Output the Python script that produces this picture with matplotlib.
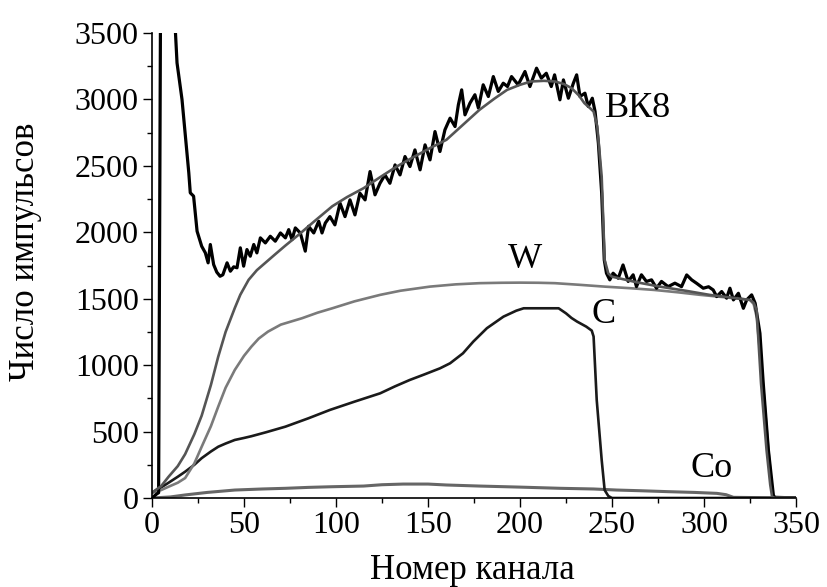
import matplotlib
matplotlib.use("Agg")
import matplotlib.pyplot as plt
from matplotlib.ticker import MultipleLocator

plt.rcParams['font.family'] = ['Liberation Serif', 'DejaVu Serif']
plt.rcParams['mathtext.fontset'] = 'stix'

# Measured RBS spectrum of the ВК8 alloy (channel, counts)
exp_ch = [0, 2.5, 3.6, 4.6, 5.5, 8, 11, 12.2, 13.6, 16.3, 18, 20, 20.8, 22.6, 23.5, 24.5,
          27, 29, 30.5, 31.7, 33.5, 35.2, 37, 38.5, 40.8, 42.6, 44.4, 46.2, 48, 49.8, 51.6,
          53.4, 55.3, 57, 58.9, 61.6, 64.3, 67, 69.8, 72.5, 74.3, 76.1, 77.9, 80.6, 83.3,
          85.1, 87.9, 90.6, 92.4, 94.2, 96.7, 99.4, 102.2, 104.9, 107.6, 110.3, 113, 115.8,
          118.5, 121.2, 123.9, 126.6, 129.3, 132.1, 134.8, 137.5, 140.2, 142.9, 145.7, 148.4,
          151.1, 153.8, 156.5, 159.2, 162, 164.7, 166.5, 168.3, 170.1, 172.8, 175.5, 177.4,
          180, 182.8, 185.5, 188.2, 190.9, 193.2, 195.4, 199, 202.7, 205.4, 209, 211.6, 214.3,
          217, 218.8, 221.7, 223.6, 226.3, 229, 230.8, 232.6, 235.3, 237.1, 239.3, 240.8,
          242.6, 244.4, 245.8, 247, 248.8, 250.6, 253.4, 256, 258.8, 261.5, 263.3, 266, 268.7,
          271.5, 274.2, 276.9, 280.5, 284.2, 287.8, 290.6, 293.3, 296, 299.6, 302.5, 305,
          306.9, 309.6, 312.3, 314.1, 316, 318.7, 321.4, 323.2, 325.9, 327.8, 330.4, 332.2,
          335, 337.7, 338.5, 350]
exp_counts = [0, 30, 40, 3700, 5000, 6000, 4500, 3650, 3275, 3000, 2748, 2447, 2297, 2272,
              2146, 2008, 1895, 1845, 1770, 1908, 1757, 1700, 1669, 1680, 1770, 1707, 1740,
              1733, 1883, 1745, 1870, 1820, 1908, 1845, 1958, 1920, 1970, 1933, 1995, 1958,
              2020, 1945, 2033, 1995, 1858, 2045, 1995, 2083, 1995, 2070, 2118, 2056, 2219,
              2118, 2244, 2131, 2294, 2244, 2457, 2282, 2369, 2432, 2369, 2507, 2432, 2570,
              2495, 2620, 2470, 2658, 2545, 2758, 2608, 2771, 2859, 2796, 2959, 3072, 2884,
              2972, 3035, 2935, 3110, 3022, 3172, 3060, 3122, 3097, 3172, 3110, 3210, 3097,
              3235, 3160, 3197, 3097, 3185, 2997, 3147, 3009, 3122, 3185, 3022, 3047, 2947,
              3009, 2909, 2671, 2294, 1792, 1692, 1642, 1692, 1654, 1754, 1630, 1680, 1591,
              1680, 1630, 1642, 1579, 1630, 1591, 1617, 1591, 1679, 1642, 1616, 1579, 1590,
              1566, 1516, 1554, 1504, 1579, 1491, 1541, 1428, 1491, 1529, 1466, 1240, 864,
              361, 22, 0, 0]

# Simulated total spectrum
fit_ch = [0, 5, 9, 14, 18, 23, 27, 32, 36, 40, 45, 48, 52.5, 57, 62, 67, 72.5, 80, 88, 98,
          106, 115, 124, 133, 142, 151, 160, 169, 178, 186, 193, 200, 206, 213, 219, 224,
          228, 232, 235, 238, 240, 242, 244.4, 246, 248, 250, 263, 276, 290, 303, 314, 325,
          327, 328.6, 331, 334, 336, 337, 338.5, 350]
fit_counts = [40, 90, 160, 240, 330, 480, 620, 850, 1064, 1250, 1430, 1530, 1642, 1715,
              1775, 1835, 1900, 1985, 2080, 2196, 2265, 2332, 2415, 2495, 2565, 2633, 2696,
              2809, 2922, 3005, 3072, 3110, 3135, 3140, 3135, 3115, 3085, 3030, 2972, 2935,
              2909, 2796, 2419, 1792, 1690, 1666, 1625, 1591, 1560, 1529, 1510, 1491, 1470,
              1415, 864, 361, 100, 10, 0, 0]

# Partial contributions of the elements
w_ch = [0, 5, 9, 14, 18, 23, 27, 32, 36, 40, 45, 50, 54, 58, 63, 70, 81.5, 90, 98, 110,
        124, 135, 151, 165, 178, 190, 200, 210, 219, 232, 246, 260, 273, 286, 298, 312,
        325, 327, 328.6, 332, 335, 337, 337.7, 350]
w_counts = [40, 60, 85, 115, 150, 260, 386, 540, 688, 830, 964, 1070, 1139, 1200, 1252,
            1305, 1353, 1395, 1428, 1480, 1529, 1560, 1591, 1608, 1617, 1620, 1621, 1620,
            1617, 1605, 1591, 1579, 1566, 1548, 1529, 1510, 1491, 1460, 1365, 864, 361, 60,
            10, 0]

c_ch = [0, 5, 9, 14, 18, 23, 27, 32, 36, 40, 45, 50, 54, 62, 72.5, 85, 96.7, 110, 124,
        132, 140, 148, 156.5, 162, 169, 174.6, 182, 191, 198, 202, 221, 225, 228, 231, 236,
        239, 240, 241.7, 244.4, 246, 248, 250, 350]
c_counts = [40, 80, 115, 160, 198, 250, 300, 350, 386, 410, 437, 452, 465, 495, 537, 600,
            663, 725, 788, 840, 888, 930, 976, 1014, 1089, 1177, 1278, 1365, 1410, 1428,
            1428, 1390, 1355, 1328, 1290, 1260, 1215, 738, 286, 60, 15, 0, 0]

co_ch = [0, 10, 18, 30, 45, 60, 72.5, 85, 98, 115, 125, 136.6, 150, 160, 178, 200, 222,
         240, 252.5, 265, 280, 295, 307, 312, 316, 350]
co_counts = [0, 8, 23, 42, 60, 68, 73, 80, 85, 90, 100, 105, 105, 98, 90, 82, 73, 68, 60,
             55, 48, 42, 35, 25, 5, 0]

x_ticks = [0, 50, 100, 150, 200, 250, 300, 350]
y_ticks = [0, 500, 1000, 1500, 2000, 2500, 3000, 3500]

fig = plt.figure(figsize=(8.27, 5.87), dpi=100)
ax = fig.add_axes([0.1838, 0.1516, 0.7787, 0.7922])

ax.plot(co_ch, co_counts, color='#666666', lw=2.2)
ax.plot(c_ch, c_counts, color='#1a1a1a', lw=1.9)
ax.plot(w_ch, w_counts, color='#7a7a7a', lw=1.9)
ax.plot(exp_ch, exp_counts, color='black', lw=2.3)
ax.plot(fit_ch, fit_counts, color='#555555', lw=1.9)

ax.text(246, 2934, 'ВК8', fontsize=26, ha='left', va='center')
ax.text(202.7, 1792, 'W', fontsize=26, ha='center', va='center')
ax.text(245.6, 1378, 'C', fontsize=26, ha='center', va='center')
ax.text(304, 224, 'Co', fontsize=26, ha='center', va='center')

ax.set_xlim(0, 350)
ax.set_ylim(0, 3500)
ax.set_xticks(x_ticks)
ax.set_yticks(y_ticks)
ax.xaxis.set_minor_locator(MultipleLocator(25))
ax.yaxis.set_minor_locator(MultipleLocator(250))

for side in ('top', 'right'):
    ax.spines[side].set_visible(False)
for side in ('left', 'bottom'):
    ax.spines[side].set_linewidth(1.2)

ax.tick_params(which='major', direction='out', length=6.5, width=1.0,
               labelsize=23, pad=3)
ax.tick_params(which='minor', direction='out', length=3.5, width=1.0)

ax.set_xlabel('Номер канала', fontsize=25, va='center')
ax.xaxis.set_label_coords(0.497, -0.155)
ax.set_ylabel('Число импульсов', fontsize=25, va='center')
ax.yaxis.set_label_coords(-0.197, 0.529)

fig.savefig('out.png', dpi=100)
